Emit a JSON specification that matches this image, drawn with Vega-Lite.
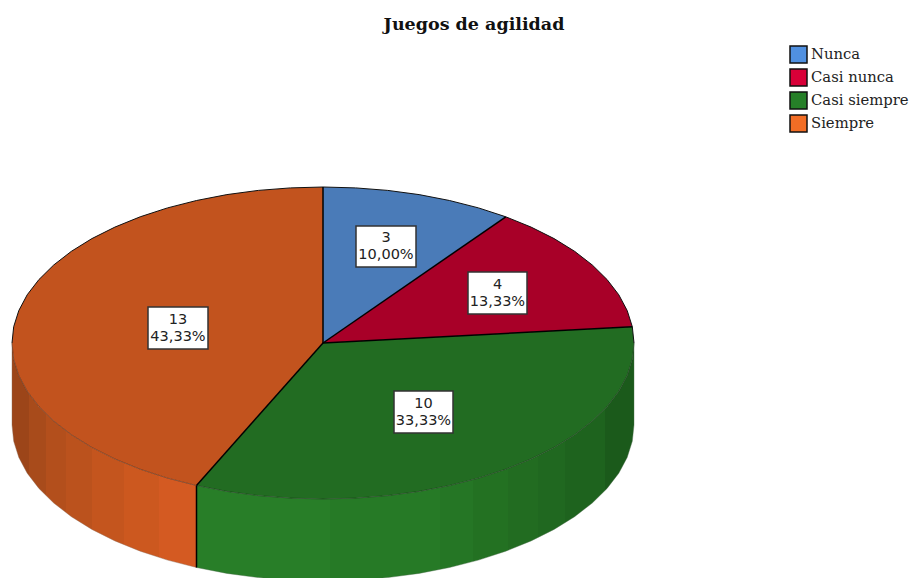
{
"$schema":"https://vega.github.io/schema/vega-lite/v6.json",
"width":912,"height":578,"padding":0,"autosize":{"type":"none"},
"background":"white",
"title":{"text":"Juegos de agilidad","font":"DejaVu Serif","fontWeight":"bold","fontSize":17.5,"color":"#111","anchor":"middle","frame":"group","dx":18,"offset":-33},
"config":{"view":{"stroke":null}},
"datasets":{
"top":[
{"slice":"Nunca","t":-1,"x":0,"y":0},{"slice":"Nunca","t":0,"x":0,"y":156},{"slice":"Nunca","t":6,"x":32.5,"y":155.1},{"slice":"Nunca","t":12,"x":64.7,"y":152.6},{"slice":"Nunca","t":18,"x":96.1,"y":148.4},{"slice":"Nunca","t":24,"x":126.5,"y":142.5},{"slice":"Nunca","t":30,"x":155.5,"y":135.1},{"slice":"Nunca","t":36,"x":182.8,"y":126.2},
{"slice":"Casi nunca","t":-1,"x":0,"y":0},{"slice":"Casi nunca","t":36,"x":182.8,"y":126.2},{"slice":"Casi nunca","t":42,"x":208.1,"y":115.9},{"slice":"Casi nunca","t":48,"x":231.1,"y":104.4},{"slice":"Casi nunca","t":54,"x":251.6,"y":91.7},{"slice":"Casi nunca","t":60,"x":269.3,"y":78},{"slice":"Casi nunca","t":66,"x":284.1,"y":63.4},{"slice":"Casi nunca","t":72,"x":295.8,"y":48.2},{"slice":"Casi nunca","t":78,"x":304.2,"y":32.4},{"slice":"Casi nunca","t":84,"x":309.3,"y":16.3},
{"slice":"Casi siempre","t":-1,"x":0,"y":0},{"slice":"Casi siempre","t":84,"x":309.3,"y":16.3},{"slice":"Casi siempre","t":90,"x":311,"y":0},{"slice":"Casi siempre","t":96,"x":309.3,"y":-16.3},{"slice":"Casi siempre","t":102,"x":304.2,"y":-32.4},{"slice":"Casi siempre","t":108,"x":295.8,"y":-48.2},{"slice":"Casi siempre","t":114,"x":284.1,"y":-63.4},{"slice":"Casi siempre","t":120,"x":269.3,"y":-78},{"slice":"Casi siempre","t":126,"x":251.6,"y":-91.7},{"slice":"Casi siempre","t":132,"x":231.1,"y":-104.4},{"slice":"Casi siempre","t":138,"x":208.1,"y":-115.9},{"slice":"Casi siempre","t":144,"x":182.8,"y":-126.2},{"slice":"Casi siempre","t":150,"x":155.5,"y":-135.1},{"slice":"Casi siempre","t":156,"x":126.5,"y":-142.5},{"slice":"Casi siempre","t":162,"x":96.1,"y":-148.4},{"slice":"Casi siempre","t":168,"x":64.7,"y":-152.6},{"slice":"Casi siempre","t":174,"x":32.5,"y":-155.1},{"slice":"Casi siempre","t":180,"x":0,"y":-156},{"slice":"Casi siempre","t":186,"x":-32.5,"y":-155.1},{"slice":"Casi siempre","t":192,"x":-64.7,"y":-152.6},{"slice":"Casi siempre","t":198,"x":-96.1,"y":-148.4},{"slice":"Casi siempre","t":204,"x":-126.5,"y":-142.5},
{"slice":"Siempre","t":-1,"x":0,"y":0},{"slice":"Siempre","t":204,"x":-126.5,"y":-142.5},{"slice":"Siempre","t":210,"x":-155.5,"y":-135.1},{"slice":"Siempre","t":216,"x":-182.8,"y":-126.2},{"slice":"Siempre","t":222,"x":-208.1,"y":-115.9},{"slice":"Siempre","t":228,"x":-231.1,"y":-104.4},{"slice":"Siempre","t":234,"x":-251.6,"y":-91.7},{"slice":"Siempre","t":240,"x":-269.3,"y":-78},{"slice":"Siempre","t":246,"x":-284.1,"y":-63.4},{"slice":"Siempre","t":252,"x":-295.8,"y":-48.2},{"slice":"Siempre","t":258,"x":-304.2,"y":-32.4},{"slice":"Siempre","t":264,"x":-309.3,"y":-16.3},{"slice":"Siempre","t":270,"x":-311,"y":0},{"slice":"Siempre","t":276,"x":-309.3,"y":16.3},{"slice":"Siempre","t":282,"x":-304.2,"y":32.4},{"slice":"Siempre","t":288,"x":-295.8,"y":48.2},{"slice":"Siempre","t":294,"x":-284.1,"y":63.4},{"slice":"Siempre","t":300,"x":-269.3,"y":78},{"slice":"Siempre","t":306,"x":-251.6,"y":91.7},{"slice":"Siempre","t":312,"x":-231.1,"y":104.4},{"slice":"Siempre","t":318,"x":-208.1,"y":115.9},{"slice":"Siempre","t":324,"x":-182.8,"y":126.2},{"slice":"Siempre","t":330,"x":-155.5,"y":135.1},{"slice":"Siempre","t":336,"x":-126.5,"y":142.5},{"slice":"Siempre","t":342,"x":-96.1,"y":148.4},{"slice":"Siempre","t":348,"x":-64.7,"y":152.6},{"slice":"Siempre","t":354,"x":-32.5,"y":155.1},{"slice":"Siempre","t":360,"x":0,"y":156}
],
"wallGreen":[
{"x":311,"y":0,"y2":-82},{"x":309.3,"y":-16.3,"y2":-98.3},{"x":304.2,"y":-32.4,"y2":-114.4},{"x":295.8,"y":-48.2,"y2":-130.2},{"x":284.1,"y":-63.4,"y2":-145.4},{"x":269.3,"y":-78,"y2":-160},{"x":251.6,"y":-91.7,"y2":-173.7},{"x":231.1,"y":-104.4,"y2":-186.4},{"x":208.1,"y":-115.9,"y2":-197.9},{"x":182.8,"y":-126.2,"y2":-208.2},{"x":155.5,"y":-135.1,"y2":-217.1},{"x":126.5,"y":-142.5,"y2":-224.5},{"x":96.1,"y":-148.4,"y2":-230.4},{"x":64.7,"y":-152.6,"y2":-234.6},{"x":32.5,"y":-155.1,"y2":-237.1},{"x":0,"y":-156,"y2":-238},{"x":-32.5,"y":-155.1,"y2":-237.1},{"x":-64.7,"y":-152.6,"y2":-234.6},{"x":-96.1,"y":-148.4,"y2":-230.4},{"x":-126.5,"y":-142.5,"y2":-224.5}
],
"wallOrange":[
{"x":-126.5,"y":-142.5,"y2":-224.5},{"x":-155.5,"y":-135.1,"y2":-217.1},{"x":-182.8,"y":-126.2,"y2":-208.2},{"x":-208.1,"y":-115.9,"y2":-197.9},{"x":-231.1,"y":-104.4,"y2":-186.4},{"x":-251.6,"y":-91.7,"y2":-173.7},{"x":-269.3,"y":-78,"y2":-160},{"x":-284.1,"y":-63.4,"y2":-145.4},{"x":-295.8,"y":-48.2,"y2":-130.2},{"x":-304.2,"y":-32.4,"y2":-114.4},{"x":-309.3,"y":-16.3,"y2":-98.3},{"x":-311,"y":0,"y2":-82}
],
"spokes":[
{"edge":"a","x":0,"y":0},{"edge":"a","x":0,"y":156},
{"edge":"b","x":0,"y":0},{"edge":"b","x":182.8,"y":126.2},
{"edge":"c","x":0,"y":0},{"edge":"c","x":309.3,"y":16.3},
{"edge":"d","x":0,"y":0},{"edge":"d","x":-126.5,"y":-142.5},
{"edge":"e","x":-126.5,"y":-142.5},{"edge":"e","x":-126.5,"y":-224.5}
],
"labels":[
{"slice":"Nunca","n":"3","pct":"10,00%","x":33,"x2":93,"y":117,"y2":76,"cx":63,"cy":96.5},
{"slice":"Casi nunca","n":"4","pct":"13,33%","x":145,"x2":204,"y":71,"y2":29,"cx":174.5,"cy":50},
{"slice":"Casi siempre","n":"10","pct":"33,33%","x":71,"x2":130,"y":-48,"y2":-90,"cx":100.5,"cy":-69},
{"slice":"Siempre","n":"13","pct":"43,33%","x":-175,"x2":-115,"y":36,"y2":-6,"cx":-145,"cy":15}
]
},
"encoding":{
"x":{"field":"x","type":"quantitative","axis":null,"scale":{"domain":[-323,589],"nice":false,"zero":false}},
"y":{"field":"y","type":"quantitative","axis":null,"scale":{"domain":[-235,343],"nice":false,"zero":false}}
},
"layer":[
{"data":{"name":"wallGreen"},
 "mark":{"type":"area","orient":"vertical","stroke":"#4a6a4a","strokeWidth":0.4,"color":{"gradient":"linear","x1":0,"x2":1,"y1":0,"y2":0,"stops":[
 {"offset":0,"color":"#287e28"},{"offset":0.304,"color":"#287e28"},{"offset":0.304,"color":"#267a26"},{"offset":0.556,"color":"#267a26"},{"offset":0.556,"color":"#257625"},{"offset":0.632,"color":"#257625"},{"offset":0.632,"color":"#237122"},{"offset":0.712,"color":"#237122"},{"offset":0.712,"color":"#226c21"},{"offset":0.78,"color":"#226c21"},{"offset":0.78,"color":"#206820"},{"offset":0.842,"color":"#206820"},{"offset":0.842,"color":"#1e631e"},{"offset":0.934,"color":"#1e631e"},{"offset":0.934,"color":"#1b5a1b"},{"offset":1,"color":"#1b5a1b"}]}},
 "encoding":{"y2":{"field":"y2"}}},
{"data":{"name":"wallOrange"},
 "mark":{"type":"area","orient":"vertical","stroke":"#8a6a55","strokeWidth":0.4,"color":{"gradient":"linear","x1":0,"x2":1,"y1":0,"y2":0,"stops":[
 {"offset":0,"color":"#9c4519"},{"offset":0.092,"color":"#9c4519"},{"offset":0.092,"color":"#a84b1b"},{"offset":0.185,"color":"#a84b1b"},{"offset":0.185,"color":"#b34f1c"},{"offset":0.293,"color":"#b34f1c"},{"offset":0.293,"color":"#bb521d"},{"offset":0.435,"color":"#bb521d"},{"offset":0.435,"color":"#c4551e"},{"offset":0.609,"color":"#c4551e"},{"offset":0.609,"color":"#cc581f"},{"offset":0.799,"color":"#cc581f"},{"offset":0.799,"color":"#d45a22"},{"offset":1,"color":"#d45a22"}]}},
 "encoding":{"y2":{"field":"y2"}}},
{"data":{"name":"top"},
 "mark":{"type":"line","strokeWidth":0,"interpolate":"linear"},
 "encoding":{"order":{"field":"t","type":"quantitative"},
  "fill":{"field":"slice","type":"nominal","legend":null,"scale":{"domain":["Nunca","Casi nunca","Casi siempre","Siempre"],"range":["#4a7bb8","#a80028","#226c22","#c2531e"]}}}},
{"data":{"name":"top"},
 "transform":[{"filter":"datum.t>=0 && (datum.t<=90 || datum.t>=270)"}],
 "mark":{"type":"line","stroke":"#111","strokeWidth":1},
 "encoding":{"detail":{"field":"slice"},"order":{"field":"t","type":"quantitative"}}},
{"data":{"name":"top"},
 "transform":[{"filter":"datum.t>=90 && datum.t<=270"}],
 "mark":{"type":"line","stroke":"#000","strokeOpacity":0.3,"strokeWidth":1},
 "encoding":{"detail":{"field":"slice"},"order":{"field":"t","type":"quantitative"}}},
{"data":{"name":"spokes"},
 "mark":{"type":"line","stroke":"#000","strokeWidth":1.5},
 "encoding":{"detail":{"field":"edge"}}},
{"data":{"name":"labels"},
 "mark":{"type":"point","filled":true,"size":4},
 "encoding":{"x":{"field":"cx","type":"quantitative"},"y":{"field":"cy","type":"quantitative"},"color":{"field":"slice","type":"nominal","title":null,
   "scale":{"domain":["Nunca","Casi nunca","Casi siempre","Siempre"],"range":["#5090e0","#d80038","#267f28","#f26d25"]},
   "legend":{"orient":"none","legendX":789,"legendY":45,"padding":0,"symbolType":"square","symbolSize":289,"symbolOpacity":1,"symbolStrokeColor":"#111","symbolStrokeWidth":1.5,"rowPadding":0,"labelFont":"DejaVu Serif","labelFontSize":14.8,"labelColor":"#222","labelOffset":3,"labelLimit":130}}}},
{"data":{"name":"labels"},
 "mark":{"type":"rect","fill":"white","stroke":"#333","strokeWidth":1.5},
 "encoding":{"x2":{"field":"x2"},"y2":{"field":"y2"}}},
{"data":{"name":"labels"},
 "mark":{"type":"text","font":"DejaVu Sans","fontSize":14.5,"color":"#222","dy":-8.5},
 "encoding":{"x":{"field":"cx","type":"quantitative"},"y":{"field":"cy","type":"quantitative"},"text":{"field":"n"}}},
{"data":{"name":"labels"},
 "mark":{"type":"text","font":"DejaVu Sans","fontSize":14.5,"color":"#222","dy":8.5},
 "encoding":{"x":{"field":"cx","type":"quantitative"},"y":{"field":"cy","type":"quantitative"},"text":{"field":"pct"}}}
],
"resolve":{"legend":{"color":"independent"}}
}
